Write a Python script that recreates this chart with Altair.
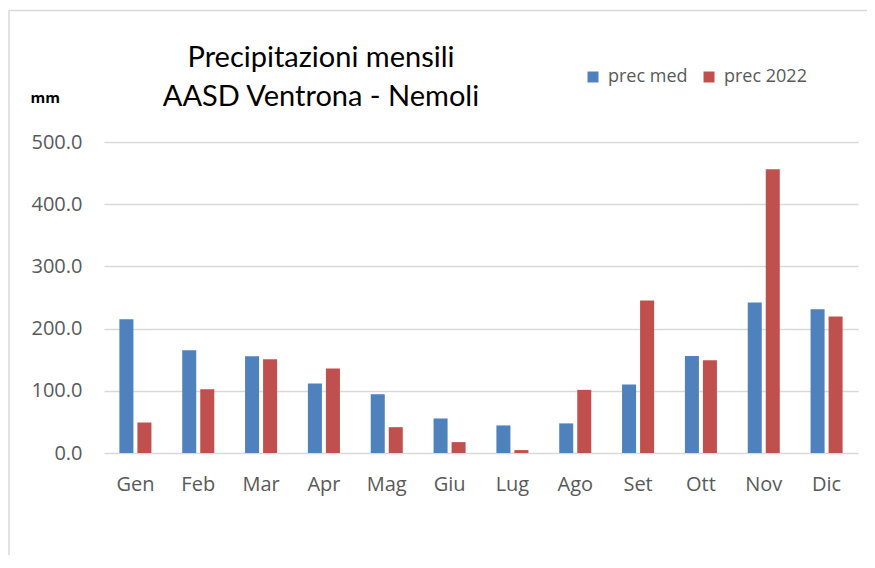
import altair as alt
import pandas as pd

months = ["Gen", "Feb", "Mar", "Apr", "Mag", "Giu", "Lug", "Ago", "Set", "Ott", "Nov", "Dic"]
series_names = ["prec med", "prec 2022"]
prec_med = [215.0, 165.0, 155.6, 111.7, 94.5, 55.5, 44.3, 47.6, 110.0, 156.0, 242.0, 231.3]
prec_2022 = [49.0, 102.5, 150.8, 135.8, 41.5, 17.5, 4.7, 101.5, 245.3, 149.2, 456.0, 219.5]
colors = ["#4F81BD", "#C0504D"]

rows = []
for i, m in enumerate(months):
    rows.append({"mese": m, "serie": series_names[0], "mm": prec_med[i]})
    rows.append({"mese": m, "serie": series_names[1], "mm": prec_2022[i]})
df = pd.DataFrame(rows)

W, H = 754, 311

bars = alt.Chart(df).mark_bar().encode(
    x=alt.X("mese:N", sort=months,
            scale=alt.Scale(paddingInner=0.49, paddingOuter=0.245),
            axis=alt.Axis(title=None, labelAngle=0, domain=False, ticks=False,
                          labelFont="Open Sans", labelFontSize=20, labelColor="#595959",
                          labelPadding=21)),
    xOffset=alt.XOffset("serie:N", sort=series_names,
                        scale=alt.Scale(paddingInner=0.222, paddingOuter=0)),
    y=alt.Y("mm:Q", scale=alt.Scale(domain=[0, 500]),
            axis=alt.Axis(values=[0, 100, 200, 300, 400, 500], format=".1f",
                          domain=False, ticks=False,
                          labelFont="Open Sans", labelFontSize=20, labelColor="#595959",
                          labelPadding=22,
                          gridColor="#d9d9d9", gridWidth=1.5,
                          title="mm", titleAngle=0, titleFont="Open Sans",
                          titleFontSize=15, titleFontWeight="bold", titleColor="#000000",
                          titleAlign="left", titleBaseline="alphabetic",
                          titleX=-74, titleY=-40)),
    color=alt.Color("serie:N", sort=series_names,
                    scale=alt.Scale(domain=series_names, range=colors),
                    legend=alt.Legend(title=None, orient="none", direction="horizontal",
                                      legendX=480, legendY=-74,
                                      symbolType="square", symbolSize=121,
                                      symbolStrokeWidth=0, symbolOpacity=1,
                                      labelFont="Open Sans", labelFontSize=18,
                                      labelColor="#595959", labelOffset=6,
                                      columnPadding=12, padding=0)),
)

frame = alt.Chart(alt.Data(values=[{"f": 1}])).mark_rect(
    fill="transparent", stroke="#d9d9d9", strokeWidth=1.5
).encode(
    x=alt.value(-95), x2=alt.value(W + 200),
    y=alt.value(-131.5), y2=alt.value(H + 300),
)

chart = alt.layer(frame, bars).properties(
    width=W, height=H,
    title=alt.TitleParams(
        text=["Precipitazioni mensili", "AASD Ventrona - Nemoli"],
        font="Lato", fontSize=29, fontWeight="normal", color="#000000",
        anchor="middle", dx=-160, dy=102, lineHeight=39, offset=0,
    ),
    padding={"left": 96, "top": 134, "right": 9, "bottom": 102},
    autosize=alt.AutoSizeParams(type="none"),
).configure(background="white").configure_view(stroke=None)

chart.save("out.html", embed_options={"renderer": "svg", "actions": False})
